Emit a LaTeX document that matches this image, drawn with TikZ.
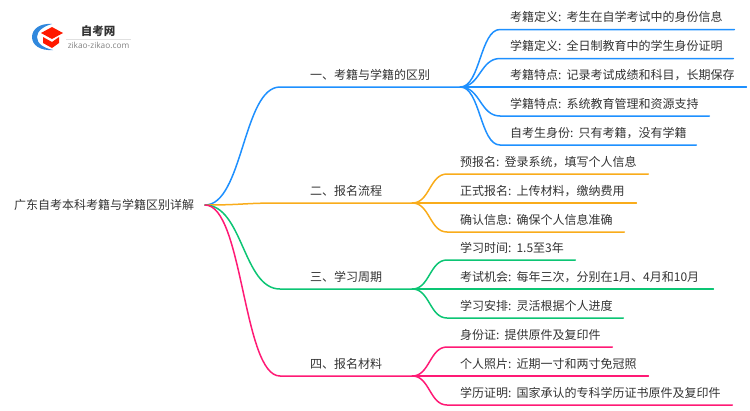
\documentclass[tikz,border=0pt]{standalone}
\usepackage{fontspec}
\setmainfont{Noto Sans CJK SC}
\newfontfamily\latinlogo{Open Sans}
\usetikzlibrary{calc}
\definecolor{cblue}{HTML}{1E90FF}
\definecolor{corange}{HTML}{F9AC1B}
\definecolor{cgreen}{HTML}{0CC574}
\definecolor{cpink}{HTML}{FF1A75}
\definecolor{ctext}{HTML}{333333}
\tikzset{
  txt/.style={inner sep=0pt,text=ctext,font=\fontsize{12}{14}\selectfont},
  rownode/.style={txt,anchor=south west,align=left,minimum height=24pt},
  wire/.style={line width=1.5pt,line cap=round,line join=round},
}
\newcommand{\cln}{:\hspace{5pt}}
\newcommand{\ind}{10pt}
\newcommand{\leaf}[7]{% name, parent, xstart, y, xend, colour, text
  \node[rownode,text width=#5pt-#3pt] (#1) at (#3,#4) {\hspace*{\ind}#7};
  \draw[wire,#6] (#2.south east) .. controls ($(#2.south east)!0.5!(#1.south west |- #2.south east)$) and ($(#1.south west)!0.5!(#2.south east |- #1.south west)$) .. (#1.south west) -- (#1.south east);
}
\begin{document}
\begin{tikzpicture}[x=1pt,y=-1pt]
\useasboundingbox (0,0) rectangle (750,410);
% logo
\fill[color=cblue!85!black!90] (52,24) .. controls (40,23) and (32,29) .. (32,37) .. controls (32,45) and (40,51) .. (53,50) .. controls (44,48) and (37,44) .. (37,37) .. controls (37,31) and (44,26) .. (52,24) -- cycle;
\fill[red!80!orange] (41,33) -- (52,27) -- (63,33) -- (52,39) -- cycle;
\fill[red!80!orange] (43,37) -- (52,42) -- (59,37) -- (59,43) -- (52,48) -- (43,43) -- cycle;
\node[inner sep=0pt,font=\fontsize{11.5}{13}\selectfont\bfseries,text=ctext] (logot) at (98,31) {自考网};
\node[inner sep=0pt,font=\fontsize{8.3}{10}\latinlogo,text=gray] (logou) at (98.5,45) {zikao-zikao.com};
\draw[black!12,line width=0.6pt] (66,39) -- (131,39);
% root
\node[txt,anchor=west] (root) at (14,204.5) {广东自考本科考籍与学籍区别详解};
\coordinate (hub) at (205,205);
% level one
\foreach \nm/\yy/\xe/\cc/\tx in {a/87/180/cblue/一、考籍与学籍的区别,b/203/132/corange/二、报名流程,c/289/132/cgreen/三、学习周期,d/376/132/cpink/四、报名材料}{
  \node[rownode,text width=\xe pt] (\nm) at (280,\yy) {\hspace*{30pt}\tx};
  \draw[wire,\cc] (hub) .. controls (243,205) and (243,\yy) .. (\nm.south west) -- (\nm.south east);
}
% leaves
\leaf{a1}{a}{500}{29.5}{734}{cblue}{考籍定义\cln 考生在自学考试中的身份信息}
\leaf{a2}{a}{500}{58.5}{733}{cblue}{学籍定义\cln 全日制教育中的学生身份证明}
\leaf{a3}{a}{500}{87}{746}{cblue}{考籍特点\cln 记录考试成绩和科目，长期保存}
\leaf{a4}{a}{500}{116}{709}{cblue}{学籍特点\cln 系统教育管理和资源支持}
\leaf{a5}{a}{500}{145}{696}{cblue}{自考生身份\cln 只有考籍，没有学籍}
\renewcommand{\ind}{13pt}
\leaf{b1}{b}{447}{174}{648}{corange}{预报名\cln 登录系统，填写个人信息}
\leaf{b2}{b}{447}{203}{636}{corange}{正式报名\cln 上传材料，缴纳费用}
\leaf{b3}{b}{447}{232}{624}{corange}{确认信息\cln 确保个人信息准确}
\leaf{c1}{c}{447}{260}{575}{cgreen}{学习时间\cln 1.5至3年}
\leaf{c2}{c}{447}{289}{713}{cgreen}{考试机会\cln 每年三次，分别在1月、4月和10月}
\leaf{c3}{c}{447}{318}{623}{cgreen}{学习安排\cln 灵活根据个人进度}
\leaf{d1}{d}{447}{347}{612}{cpink}{身份证\cln 提供原件及复印件}
\leaf{d2}{d}{447}{376}{648}{cpink}{个人照片\cln 近期一寸和两寸免冠照}
\leaf{d3}{d}{447}{405}{732}{cpink}{学历证明\cln 国家承认的专科学历证书原件及复印件}
\end{tikzpicture}
\end{document}
